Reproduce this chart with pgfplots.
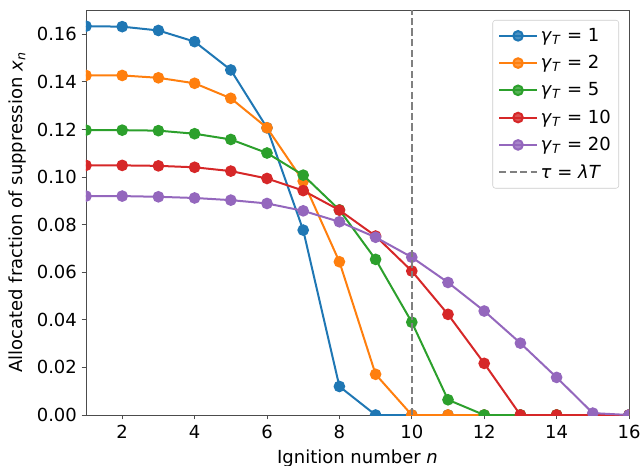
\documentclass[border=0pt]{standalone}
\usepackage{fontspec}
\setmainfont{DejaVu Sans}
\usepackage{pgfplots}
\usepackage{pgfplotstable}
\pgfplotsset{compat=1.18}
\definecolor{c0}{HTML}{1F77B4}
\definecolor{c1}{HTML}{FF7F0E}
\definecolor{c2}{HTML}{2CA02C}
\definecolor{c3}{HTML}{D62728}
\definecolor{c4}{HTML}{9467BD}
\pgfplotstableread{
n g1 g2 g5 g10 g20
1 0.1634 0.1427 0.1197 0.1049 0.0920
2 0.1632 0.1427 0.1197 0.1049 0.0920
3 0.1616 0.1417 0.1195 0.1047 0.0917
4 0.1569 0.1394 0.1182 0.1041 0.0912
5 0.1450 0.1331 0.1158 0.1025 0.0903
6 0.1207 0.1207 0.1101 0.0994 0.0889
7 0.0777 0.0983 0.1008 0.0943 0.0858
8 0.0120 0.0644 0.0862 0.0861 0.0812
9 0.0000 0.0171 0.0654 0.0752 0.0747
10 0.0000 0.0000 0.0390 0.0605 0.0663
11 0.0000 0.0000 0.0064 0.0423 0.0557
12 0.0000 0.0000 0.0000 0.0217 0.0437
13 0.0000 0.0000 0.0000 0.0000 0.0302
14 0.0000 0.0000 0.0000 0.0000 0.0158
15 0.0000 0.0000 0.0000 0.0000 0.0008
16 0.0000 0.0000 0.0000 0.0000 0.0000
}\datatable
\newcommand{\gT}[1]{\textit{γ}\textsubscript{\textit{T}} = #1}
\begin{document}
\begin{tikzpicture}
\begin{axis}[
  scale only axis, width=407.25pt, height=303.75pt,
  xmin=1, xmax=16, ymin=0, ymax=0.1702,
  xtick={2,4,6,8,10,12,14,16},
  ytick={0,0.02,0.04,0.06,0.08,0.10,0.12,0.14,0.16},
  yticklabel style={/pgf/number format/.cd, fixed, fixed zerofill, precision=2},
  /pgf/number format/assume math mode=true,
  tick align=outside, xtick pos=bottom, ytick pos=left,
  major tick length=3.3pt,
  tick style={black!70, line width=0.6pt},
  axis line style={black!70, line width=0.6pt},
  font=\fontsize{13.5}{16}\selectfont,
  ticklabel style={font=\fontsize{13.5}{16}\selectfont},
  xticklabel style={yshift=-0.8pt},
  xlabel={Ignition number \textit{n}},
  xlabel style={yshift=-1.5pt},
  ylabel={Allocated fraction of suppression \textit{x}\textsubscript{\textit{n}}},
  ylabel style={at={(axis description cs:-0.1013,0.5)}, anchor=south},
  clip mode=individual,
  clip marker paths=true,
  every axis plot/.append style={line width=1.5pt, mark=*, mark size=3.6pt},
  legend cell align=left,
  legend style={at={(1,1)}, anchor=north east, xshift=-7.5pt, yshift=-7.5pt,
    draw=black!20, rounded corners=2pt, fill=white, fill opacity=0.8, text opacity=1,
    font=\fontsize{13.5}{16}\selectfont, row sep=5pt, inner sep=4pt},
  legend image code/.code={\draw[mark repeat=2, mark phase=2] plot coordinates {(0cm,0cm) (0.5cm,0cm) (1cm,0cm)};},
]
\addplot[c0, mark options={fill=c0, draw=c0}] table[x=n, y=g1] {\datatable};
\addlegendentry{\gT{1}}
\addplot[c1, mark options={fill=c1, draw=c1}] table[x=n, y=g2] {\datatable};
\addlegendentry{\gT{2}}
\addplot[c2, mark options={fill=c2, draw=c2}] table[x=n, y=g5] {\datatable};
\addlegendentry{\gT{5}}
\addplot[c3, mark options={fill=c3, draw=c3}] table[x=n, y=g10] {\datatable};
\addlegendentry{\gT{10}}
\addplot[c4, mark options={fill=c4, draw=c4}] table[x=n, y=g20] {\datatable};
\addlegendentry{\gT{20}}
\addplot[gray, line width=1.5pt, no marks, dash pattern=on 5.5pt off 2.4pt] coordinates {(10,0) (10,0.1702)};
\addlegendentry{\textit{τ} = \textit{λT}}
\end{axis}
\pgfresetboundingbox
\path ([xshift=-64.5pt, yshift=-37.5pt]current axis.south west) rectangle ([xshift=9.75pt, yshift=7.5pt]current axis.north east);
\end{tikzpicture}
\end{document}
